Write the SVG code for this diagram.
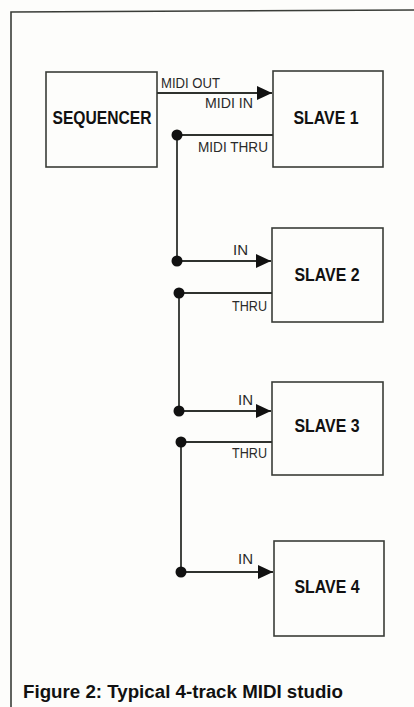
<svg xmlns="http://www.w3.org/2000/svg" width="414" height="707" viewBox="0 0 414 707">
<style>
.box{fill:none;stroke:#3a3d38;stroke-width:1.6}
.ln{fill:none;stroke:#2f322e;stroke-width:1.8}
.frame{fill:none;stroke:#3a3d38;stroke-width:1.6}
.lbl{font-family:"Liberation Sans",Arial,sans-serif;font-size:14.5px;fill:#2a2a2a}
.name{font-family:"Liberation Sans",Arial,sans-serif;font-weight:bold;font-size:19px;fill:#111}
.cap{font-family:"Liberation Sans",Arial,sans-serif;font-weight:bold;font-size:18px;fill:#111}
.dot{fill:#111}
</style>
<defs>
<marker id="arrL" viewBox="0 0 10 10" refX="10" refY="5" markerWidth="15" markerHeight="14" markerUnits="userSpaceOnUse" orient="auto" preserveAspectRatio="none">
<path d="M0,0 L10,5 L0,10 z" fill="#111"/>
</marker>
</defs>
<rect width="414" height="707" fill="#fdfdfb"/>
<g id="frame">
<path class="frame" d="M11,707 L11,12 L414,10"/>
</g>
<g id="sequencer">
<rect class="box" x="46" y="72" width="111" height="95"/>
<text class="name" x="102" y="124" text-anchor="middle" textLength="99" lengthAdjust="spacingAndGlyphs">SEQUENCER</text>
</g>
<g id="slave1">
<rect class="box" x="273" y="71" width="110" height="96"/>
<text class="name" x="326" y="124" text-anchor="middle" textLength="65" lengthAdjust="spacingAndGlyphs">SLAVE 1</text>
</g>
<g id="slave2">
<rect class="box" x="272" y="228" width="111" height="94"/>
<text class="name" x="327" y="281" text-anchor="middle" textLength="65" lengthAdjust="spacingAndGlyphs">SLAVE 2</text>
</g>
<g id="slave3">
<rect class="box" x="272" y="382" width="111" height="93"/>
<text class="name" x="327" y="432" text-anchor="middle" textLength="65" lengthAdjust="spacingAndGlyphs">SLAVE 3</text>
</g>
<g id="slave4">
<rect class="box" x="274" y="541" width="110" height="95"/>
<text class="name" x="327" y="593" text-anchor="middle" textLength="65" lengthAdjust="spacingAndGlyphs">SLAVE 4</text>
</g>
<g id="connectors">
<line class="ln" x1="157" y1="93" x2="272" y2="93" marker-end="url(#arrL)"/>
<path class="ln" d="M273,135 L177,135 L177,261"/>
<line class="ln" x1="177" y1="261" x2="271" y2="261" marker-end="url(#arrL)"/>
<path class="ln" d="M272,293 L179,293 L179,411"/>
<line class="ln" x1="179" y1="411" x2="271" y2="411" marker-end="url(#arrL)"/>
<path class="ln" d="M272,442 L181,442 L181,572"/>
<line class="ln" x1="181" y1="572" x2="273" y2="572" marker-end="url(#arrL)"/>
<circle class="dot" cx="177" cy="135" r="5.5"/>
<circle class="dot" cx="177" cy="261" r="5.5"/>
<circle class="dot" cx="179" cy="293" r="5.5"/>
<circle class="dot" cx="179" cy="411" r="5.5"/>
<circle class="dot" cx="181" cy="442" r="5.5"/>
<circle class="dot" cx="181" cy="572" r="5.5"/>
<text class="lbl" x="161" y="88" textLength="59" lengthAdjust="spacingAndGlyphs">MIDI OUT</text>
<text class="lbl" x="253" y="108" text-anchor="end" textLength="48" lengthAdjust="spacingAndGlyphs">MIDI IN</text>
<text class="lbl" x="268" y="152" text-anchor="end" textLength="70" lengthAdjust="spacingAndGlyphs">MIDI THRU</text>
<text class="lbl" x="233" y="255" textLength="15" lengthAdjust="spacingAndGlyphs">IN</text>
<text class="lbl" x="267" y="311" text-anchor="end" textLength="35" lengthAdjust="spacingAndGlyphs">THRU</text>
<text class="lbl" x="238" y="405" textLength="15" lengthAdjust="spacingAndGlyphs">IN</text>
<text class="lbl" x="267" y="458" text-anchor="end" textLength="35" lengthAdjust="spacingAndGlyphs">THRU</text>
<text class="lbl" x="238" y="564" textLength="15" lengthAdjust="spacingAndGlyphs">IN</text>
</g>
<g id="caption">
<text class="cap" x="23" y="698" textLength="320" lengthAdjust="spacingAndGlyphs">Figure 2: Typical 4-track MIDI studio</text>
</g>
</svg>
